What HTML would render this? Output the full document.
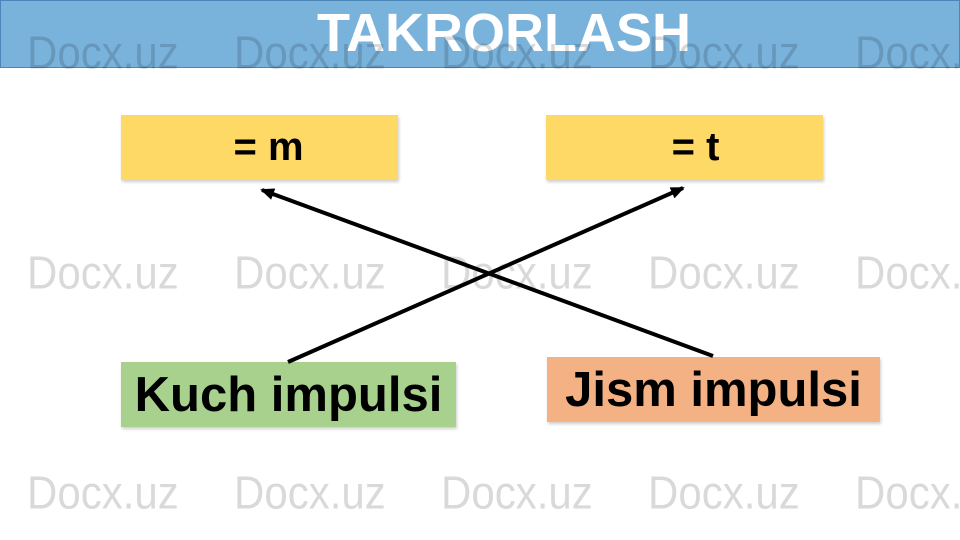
<!DOCTYPE html>
<html><head><meta charset="utf-8"><style>
body{margin:0;width:960px;height:540px;overflow:hidden;background:#fff;position:relative;font-family:"Liberation Sans",Arial,sans-serif}
.hdr{position:absolute;left:0;top:0;width:958px;height:66px;background:#79b3dc;border:1px solid #4a86b8}
.title{position:absolute;left:0;width:960px;top:2px;text-align:center;font-size:54px;font-weight:bold;color:#fff;padding-left:48px;box-sizing:border-box}
.wm{position:absolute;font-size:42px;color:rgba(0,0,0,0.15);line-height:1;transform:scaleY(1.1)}
.box{position:absolute;box-shadow:1px 2px 3px rgba(0,0,0,0.2);font-weight:bold;color:#000;display:flex;align-items:center;justify-content:center}
</style></head><body>
<div class="hdr"></div>
<div class="title">TAKRORLASH</div>
<div class="box" style="left:121px;top:115px;width:277px;height:65px;background:#ffd966;font-size:40px;padding-left:18px;box-sizing:border-box">= m</div>
<div class="box" style="left:546px;top:115px;width:277px;height:65px;background:#ffd966;font-size:40px;padding-left:22px;box-sizing:border-box">= t</div>
<div class="box" style="left:121px;top:362px;width:335px;height:65px;background:#a9d18e;font-size:49px">Kuch impulsi</div>
<div class="box" style="left:547px;top:357px;width:333px;height:65px;background:#f4b183;font-size:49px">Jism impulsi</div>
<svg width="960" height="540" style="position:absolute;left:0;top:0">
<defs><marker id="b" markerWidth="14" markerHeight="12" refX="12" refY="6" orient="auto" markerUnits="userSpaceOnUse"><path d="M0,0 L14,6 L0,12 Z" fill="#000"/></marker></defs>
<line x1="288" y1="362" x2="683" y2="188" stroke="#000" stroke-width="4" marker-end="url(#b)"/>
<line x1="713" y1="356" x2="262" y2="190" stroke="#000" stroke-width="4" marker-end="url(#b)"/>
</svg>
<div class="wm" style="left:27px;top:32px">Docx.uz</div>
<div class="wm" style="left:234px;top:32px">Docx.uz</div>
<div class="wm" style="left:441px;top:32px">Docx.uz</div>
<div class="wm" style="left:648px;top:32px">Docx.uz</div>
<div class="wm" style="left:855px;top:32px">Docx.uz</div>
<div class="wm" style="left:27px;top:252px">Docx.uz</div>
<div class="wm" style="left:234px;top:252px">Docx.uz</div>
<div class="wm" style="left:441px;top:252px">Docx.uz</div>
<div class="wm" style="left:648px;top:252px">Docx.uz</div>
<div class="wm" style="left:855px;top:252px">Docx.uz</div>
<div class="wm" style="left:27px;top:472px">Docx.uz</div>
<div class="wm" style="left:234px;top:472px">Docx.uz</div>
<div class="wm" style="left:441px;top:472px">Docx.uz</div>
<div class="wm" style="left:648px;top:472px">Docx.uz</div>
<div class="wm" style="left:855px;top:472px">Docx.uz</div>
</body></html>
